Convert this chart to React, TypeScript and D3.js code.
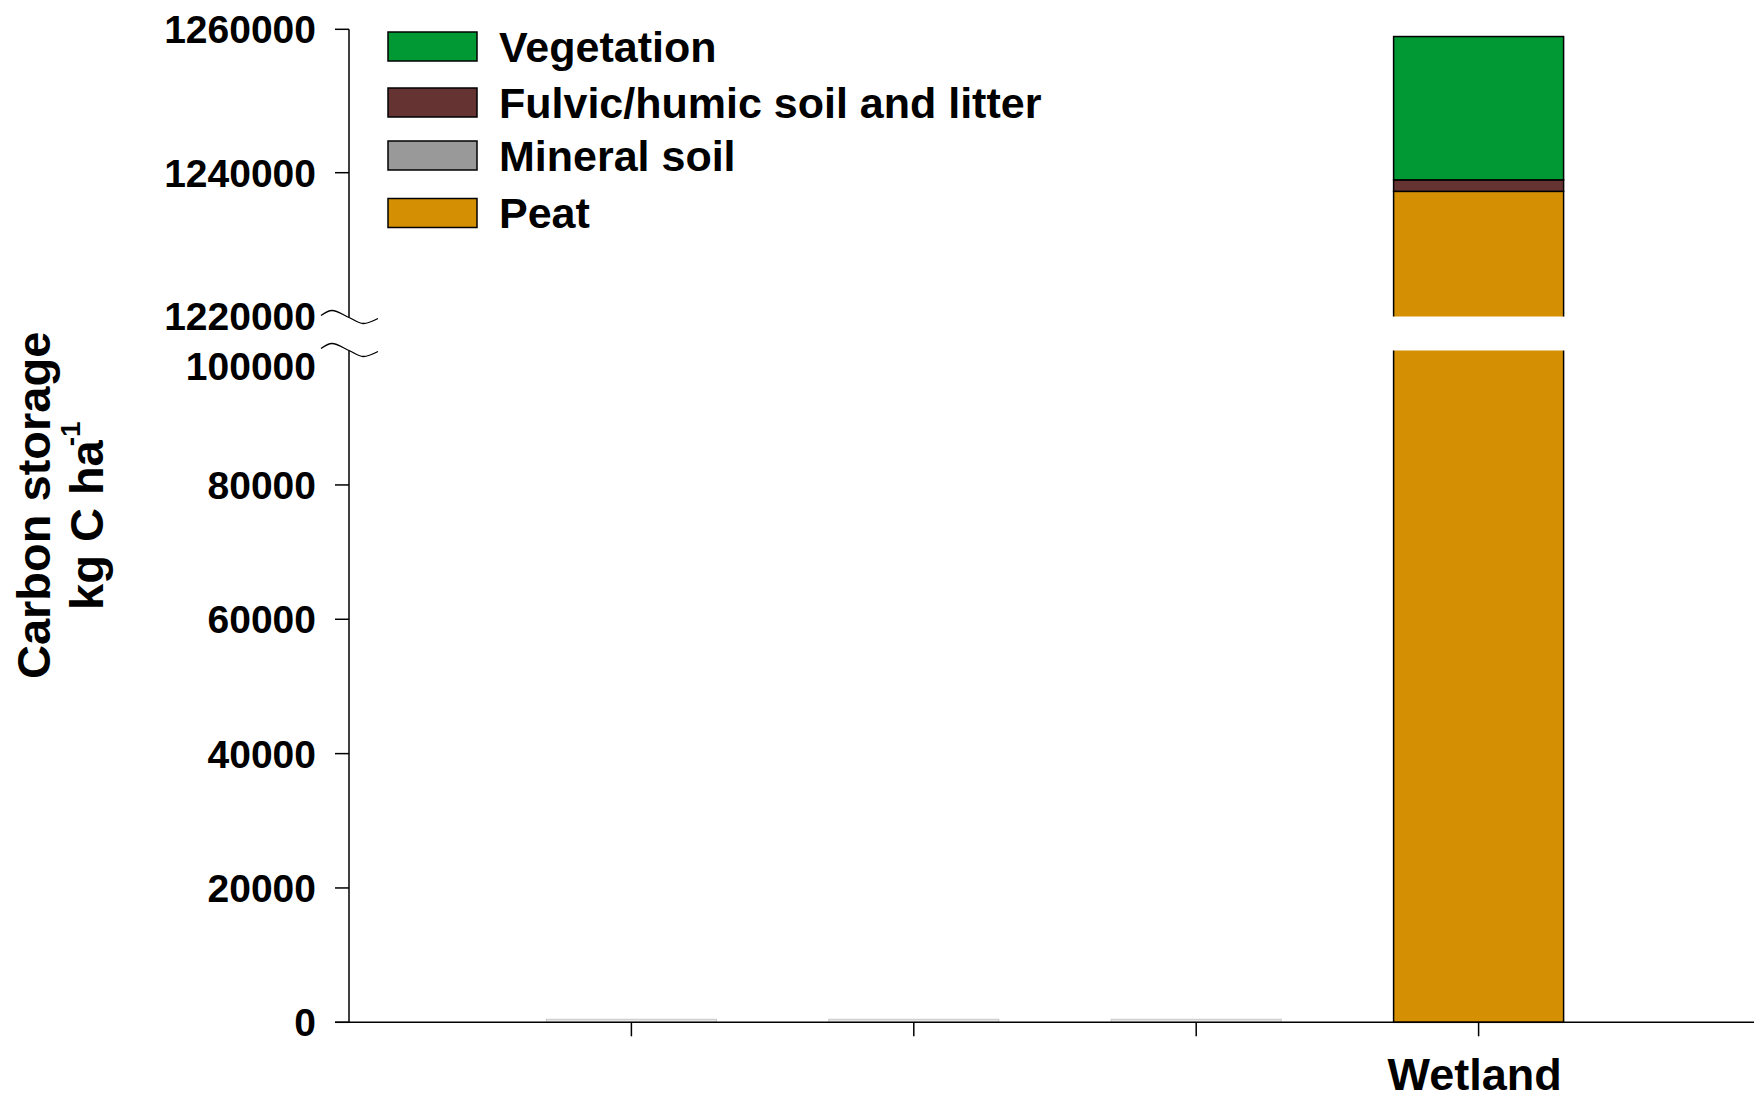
import React from "react";
import * as d3 from "d3";

// ---------- data ----------
const categories = ["", "", "", "Wetland"];
const seriesNames = ["Vegetation", "Fulvic/humic soil and litter", "Mineral soil", "Peat"];
const seriesColors = ["#009933", "#663333", "#999999", "#d49002"];
const vegetation = [0, 0, 0, 19990];
const fulvicHumic = [0, 0, 0, 1600];
const mineralSoil = [0, 0, 0, 0];
const peat = [0, 0, 0, 1237400];
const faintBase = [450, 450, 450, 0];
const lowerTicks = [0, 20000, 40000, 60000, 80000, 100000];
const upperTicks = [1220000, 1240000, 1260000];

// ---------- layout ----------
const W = 1754;
const H = 1100;
const AX = 349;
const FONT = "'Liberation Sans', Arial, Helvetica, sans-serif";

export default function App() {
  const x = d3.scaleLinear().domain([0, 5]).range([AX, AX + 5 * 282.4]);
  const yLow = d3.scaleLinear().domain([0, 100000]).range([1022.3, 350.6]);
  const yUp = d3.scaleLinear().domain([1220000, 1260000]).range([316.1, 29.3]);
  const barW = 170;

  const rows = categories.map((c, i) => ({
    idx: i,
    Peat: peat[i],
    Mineral: mineralSoil[i],
    Fulvic: fulvicHumic[i],
    Vegetation: vegetation[i],
  }));
  const keys = ["Peat", "Mineral", "Fulvic", "Vegetation"];
  const keyColor: Record<string, string> = {
    Peat: seriesColors[3],
    Mineral: seriesColors[2],
    Fulvic: seriesColors[1],
    Vegetation: seriesColors[0],
  };
  const stacked = d3.stack<any>().keys(keys)(rows);

  const breakOffsets: [number, number][] = [
    [-28, -2],
    [-17, -7],
    [0, 0],
    [14, 6],
    [29, 1],
  ];
  const wave = d3
    .line<[number, number]>()
    .x((d) => d[0])
    .y((d) => d[1])
    .curve(d3.curveCatmullRom.alpha(0.5));
  const upBreakY = 317.5;
  const lowBreakY = 350.5;
  const wavePath = (cy: number) =>
    wave(breakOffsets.map(([dx, dy]) => [AX + dx, cy + dy] as [number, number])) || "";

  const labelNudge: Record<number, number> = { 100000: 15 };

  const legendY = [46.5, 102.5, 155.5, 213];

  const segs = (scale: any) =>
    stacked.map((s) =>
      s.map((d, i) => {
        const v0 = d[0];
        const v1 = d[1];
        if (v1 - v0 <= 0) return null;
        const yTop = scale(v1);
        const yBot = scale(v0);
        return (
          <rect
            key={s.key + i}
            x={x(i + 1) - barW / 2}
            width={barW}
            y={yTop}
            height={yBot - yTop}
            fill={keyColor[s.key]}
            stroke="#000"
            strokeWidth={1.5}
          />
        );
      })
    );

  return (
    <svg
      width={W}
      height={H}
      style={{ position: "absolute", left: 0, top: 0, display: "block", background: "#fff" }}
      fontFamily={FONT}
    >
      <defs>
        <clipPath id="clipUp">
          <rect x={0} y={0} width={W} height={316.4} />
        </clipPath>
        <clipPath id="clipLow">
          <rect x={0} y={350.4} width={W} height={H - 350.4} />
        </clipPath>
      </defs>
      <rect x={0} y={0} width={W} height={H} fill="#fff" />

      {/* faint near-zero bars */}
      {faintBase.map((v, i) =>
        v > 0 ? (
          <rect
            key={"f" + i}
            x={x(i + 1) - barW / 2}
            width={barW}
            y={yLow(v)}
            height={yLow(0) - yLow(v)}
            fill="#e6e6e6"
            stroke="#c8c8c8"
            strokeWidth={1}
          />
        ) : null
      )}

      <g clipPath="url(#clipUp)">{segs(yUp)}</g>
      <g clipPath="url(#clipLow)">{segs(yLow)}</g>

      {/* y axis - upper */}
      <line x1={AX} x2={AX} y1={yUp(1260000)} y2={upBreakY} stroke="#000" strokeWidth={1.5} />
      {/* y axis - lower */}
      <line x1={AX} x2={AX} y1={lowBreakY} y2={yLow(0)} stroke="#000" strokeWidth={1.5} />
      <path d={wavePath(upBreakY)} fill="none" stroke="#000" strokeWidth={1.3} />
      <path d={wavePath(lowBreakY)} fill="none" stroke="#000" strokeWidth={1.3} />

      {upperTicks.map((t) => (
        <g key={"ut" + t}>
          {t !== 1220000 && (
            <line x1={AX - 14} x2={AX} y1={yUp(t)} y2={yUp(t)} stroke="#000" strokeWidth={1.5} />
          )}
          <text
            x={316}
            y={yUp(t) + 14}
            textAnchor="end"
            fontSize={39}
            fontWeight="bold"
            fill="#000"
          >
            {t}
          </text>
        </g>
      ))}
      {lowerTicks.map((t) => (
        <g key={"lt" + t}>
          {t !== 100000 && (
            <line x1={AX - 14} x2={AX} y1={yLow(t)} y2={yLow(t)} stroke="#000" strokeWidth={1.5} />
          )}
          <text
            x={316}
            y={yLow(t) + 14 + (labelNudge[t] || 0)}
            textAnchor="end"
            fontSize={39}
            fontWeight="bold"
            fill="#000"
          >
            {t}
          </text>
        </g>
      ))}

      {/* x axis */}
      <line x1={AX - 14} x2={W} y1={yLow(0)} y2={yLow(0)} stroke="#000" strokeWidth={1.5} />
      {categories.map((c, i) => (
        <g key={"xc" + i}>
          <line
            x1={x(i + 1)}
            x2={x(i + 1)}
            y1={yLow(0)}
            y2={yLow(0) + 14}
            stroke="#000"
            strokeWidth={1.5}
          />
          {c && (
            <text x={x(i + 1) - 4} y={1090} textAnchor="middle" fontSize={45} fontWeight="bold">
              {c}
            </text>
          )}
        </g>
      ))}

      {/* y title */}
      <text
        transform="translate(50,679) rotate(-90)"
        fontSize={47}
        fontWeight="bold"
        textAnchor="start"
      >
        Carbon storage
      </text>
      <text
        transform="translate(103,610) rotate(-90)"
        fontSize={47}
        fontWeight="bold"
        textAnchor="start"
      >
        kg C ha
        <tspan fontSize={28} dy={-23} dx={-6}>
          -1
        </tspan>
      </text>

      {/* legend */}
      {seriesNames.map((n, i) => (
        <g key={"lg" + i}>
          <rect
            x={388}
            y={legendY[i] - 14.5}
            width={89}
            height={29}
            fill={seriesColors[i]}
            stroke="#000"
            strokeWidth={1.5}
          />
          <text x={499} y={legendY[i] + 15} fontSize={43} fontWeight="bold">
            {n}
          </text>
        </g>
      ))}
    </svg>
  );
}
